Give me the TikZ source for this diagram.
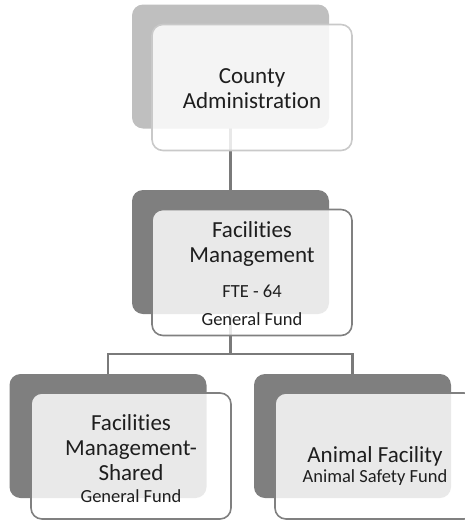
\documentclass[tikz,border=0pt]{standalone}
\usepackage{fontspec}
\setmainfont{Carlito}[Ligatures={NoCommon,NoRare,NoContextual}]
\usetikzlibrary{backgrounds}
\definecolor{backlight}{HTML}{BFBFBF}
\definecolor{backdark}{HTML}{7F7F7F}
\definecolor{edgelight}{HTML}{C9C9C9}
\definecolor{edgedark}{HTML}{808080}
\definecolor{linkgray}{HTML}{7A7A7A}
\definecolor{inkgray}{HTML}{1E1E1E}
\newcommand{\fundsize}{\fontsize{18.5}{22}\selectfont}

\begin{document}
\begin{tikzpicture}[x=1pt, y=-1pt,
  back/.style={rounded corners=11pt, minimum width=197pt, minimum height=124pt, inner sep=0pt},
  front/.style={draw, line width=1.6pt, rounded corners=11pt, fill=white, fill opacity=0.83, minimum width=200pt, minimum height=126pt, inner sep=0pt},
  label/.style={align=center, text=inkgray, inner sep=0pt, font=\fontsize{23}{25}\selectfont},
  link/.style={draw=linkgray, line width=2.2pt}]
  \useasboundingbox (0,0) rectangle (465,520);
  \node[back, fill=backlight] (admback) at (230.5,66.5) {};
  \node[front, draw=edgelight] (admbox) at (252,87.5) {};
  \node[label, yshift=-1.5pt] (admtext) at (admbox) {County\\Administration};
  \node[back, fill=backdark] (mgmtback) at (230.5,252) {};
  \node[front, draw=edgedark] (mgmtbox) at (252,272.5) {};
  \node[label, yshift=-1.3pt] (mgmttext) at (mgmtbox) {Facilities\\Management\\[10pt]{\fundsize FTE - 64}\\[2.5pt]{\fundsize General Fund}};
  \node[back, fill=backdark] (sharedback) at (108,436) {};
  \node[front, draw=edgedark] (sharedbox) at (131,456) {};
  \node[label, yshift=-2.5pt] (sharedtext) at (sharedbox) {Facilities\\Management-\\Shared\\[-3pt]{\fundsize General Fund}};
  \node[back, fill=backdark] (animalback) at (352.5,436) {};
  \node[front, draw=edgedark] (animalbox) at (375,456) {};
  \node[label, yshift=-9.5pt] (animaltext) at (animalbox) {Animal Facility\\[-5pt]{\fundsize Animal Safety Fund}};
  \begin{scope}[on background layer]
    \coordinate (bus) at (230.5,354);
    \draw[link] (admback.center) -- (mgmtback.center);
    \draw[link] (mgmtback.center) -- (bus) -| (sharedback.center);
    \draw[link] (bus) -| (animalback.center);
  \end{scope}
\end{tikzpicture}
\end{document}
